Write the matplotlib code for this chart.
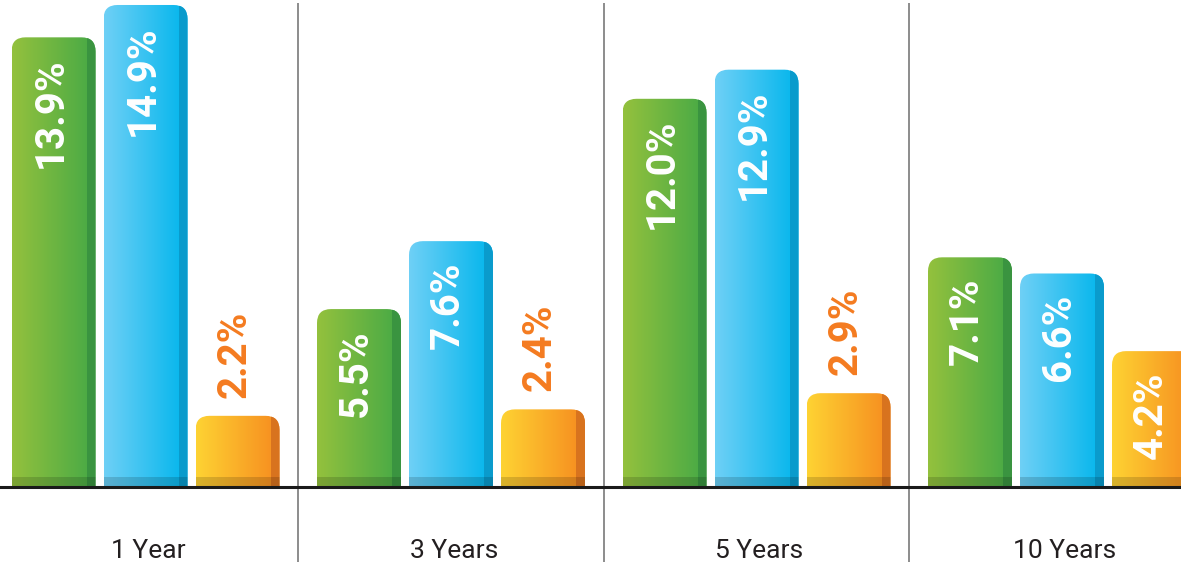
import numpy as np
import matplotlib
matplotlib.use("Agg")
import matplotlib.pyplot as plt
from matplotlib.path import Path
from matplotlib.patches import PathPatch, Rectangle
from matplotlib.colors import LinearSegmentedColormap

# data
periods = ["1 Year", "3 Years", "5 Years", "10 Years"]
series_a = [13.9, 5.5, 12.0, 7.1]   # green
series_b = [14.9, 7.6, 12.9, 6.6]   # blue
series_c = [2.2, 2.4, 2.9, 4.2]     # orange

# gradient (left, right), side strip
styles = [
    ("#94c13d", "#45a946", "#3a9440"),
    ("#6fd0f6", "#00b5ec", "#0a9bcc"),
    ("#fed333", "#f68b1f", "#d8731e"),
]
orange_txt = "#f47b20"

fig = plt.figure(figsize=(11.81, 5.65), dpi=100)
ax = fig.add_axes([0, 0, 1, 1])
ax.axis("off")

px_x = 305.5          # pixels per group
px_y = 32.35          # pixels per percent
ax.set_xlim(-145.5 / px_x, (1181 - 145.5) / px_x)
ax.set_ylim((487 - 565) / px_y, 487 / px_y)

w = 84 / px_x
step = 92 / px_x
rx, ry = 14 / px_x, 14 / px_y
strip = 9 / px_x
base = 10 / px_y


def top_rounded(x0, x1, top):
    verts = [(x0, 0), (x0, top - ry), (x0, top), (x0 + rx, top),
             (x1 - rx, top), (x1, top), (x1, top - ry), (x1, 0), (x0, 0)]
    codes = [Path.MOVETO, Path.LINETO, Path.CURVE3, Path.CURVE3, Path.LINETO,
             Path.CURVE3, Path.CURVE3, Path.LINETO, Path.CLOSEPOLY]
    return Path(verts, codes)


grad = np.linspace(0, 1, 256).reshape(1, -1)
for s, vals in enumerate([series_a, series_b, series_c]):
    left, right, side = styles[s]
    cmap = LinearSegmentedColormap.from_list("g%d" % s, [left, right])
    for i, v in enumerate(vals):
        xc = i + (s - 1) * step
        x0, x1 = xc - w / 2, xc + w / 2
        patch = PathPatch(top_rounded(x0, x1, v), facecolor="none", edgecolor="none")
        ax.add_patch(patch)
        im = ax.imshow(grad, cmap=cmap, extent=(x0, x1, 0, v), aspect="auto",
                       interpolation="bilinear", zorder=2)
        im.set_clip_path(patch)
        r = Rectangle((x1 - strip, 0), strip, v, facecolor=side, edgecolor="none", zorder=3)
        ax.add_patch(r)
        r.set_clip_path(patch)
        b = Rectangle((x0, 0), w, base, facecolor="black", alpha=0.15, edgecolor="none", zorder=4)
        ax.add_patch(b)
        b.set_clip_path(patch)

        lab = "%.1f%%" % v
        if s < 2 or v > 4:
            ax.text(xc - 0.01, v - 20 / px_y, lab, rotation=90, ha="center", va="top",
                    color="white", fontsize=29, fontweight="bold", family="Roboto", zorder=5)
        else:
            ax.text(xc - 0.01, v + 18 / px_y, lab, rotation=90, ha="center", va="bottom",
                    color=orange_txt, fontsize=29, fontweight="bold", family="Roboto", zorder=5)

ax.axhline(0, color="#1a1a1a", lw=2.2, zorder=6)
ax.vlines([0.5, 1.5, 2.5], (487 - 562) / px_y, (487 - 3) / px_y, color="#6d6d6d", lw=1.1, zorder=1)

for i, p in enumerate(periods):
    ax.text(i + 0.01, (487 - 551) / px_y, p, ha="center", va="center",
            fontsize=19, color="#231f20", family="Roboto")

fig.savefig("out.png", dpi=100)
